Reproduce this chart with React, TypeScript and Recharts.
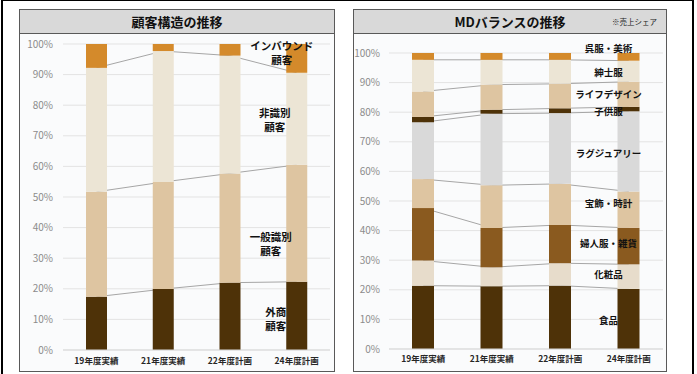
import React from 'react';
import { ComposedChart, Bar, Line, XAxis, YAxis, CartesianGrid, LabelList } from 'recharts';

// 年度カテゴリ
const years = ['19年度実績', '21年度実績', '22年度計画', '24年度計画'];

// 顧客構造の推移 (%)
const customerNames = ['外商顧客', '一般識別顧客', '非識別顧客', 'インバウンド顧客'];
const gaishou = [17.4, 19.9, 22.0, 22.3];
const ippanShikibetsu = [34.3, 35.0, 35.7, 38.2];
const hiShikibetsu = [40.5, 42.8, 38.5, 30.1];
const inbound = [7.8, 2.3, 3.8, 9.4];

// MDバランスの推移 (売上シェア %)
const mdNames = ['食品', '化粧品', '婦人服・雑貨', '宝飾・時計', 'ラグジュアリー', '子供服', 'ライフデザイン', '紳士服', '呉服・美術'];
const shokuhin = [21.4, 21.2, 21.4, 20.3];
const keshouhin = [8.5, 6.4, 7.6, 8.3];
const fujinfuku = [17.7, 13.3, 12.9, 12.3];
const houshoku = [9.8, 14.4, 13.9, 12.3];
const luxury = [19.2, 24.2, 23.9, 27.1];
const kodomofuku = [1.8, 1.3, 1.6, 1.5];
const lifeDesign = [8.6, 8.5, 8.3, 8.5];
const shinshifuku = [10.7, 8.4, 8.1, 7.1];
const gofuku = [2.3, 2.3, 2.3, 2.6];

const yTicks = [0, 10, 20, 30, 40, 50, 60, 70, 80, 90, 100];

const FONT = '"Noto Sans CJK JP", "Noto Sans", sans-serif';

const DARK = '#4e3208';
const BROWN = '#8a5a1f';
const TAN = '#dec5a1';
const CREAM = '#ece5d5';
const BEIGE = '#e7dccb';
const GRAY = '#d9d9d9';
const ORANGE = '#d48a2b';

// Stacked rows: s{i} = segment value, c{i} = cumulative top of segment i
function buildRows(series: number[][]) {
  return years.map((year, j) => {
    const row: Record<string, number | string> = { year };
    let acc = 0;
    series.forEach((s, i) => {
      acc += s[j];
      row[`s${i}`] = s[j];
      row[`c${i}`] = Math.round(acc * 10) / 10;
    });
    return row;
  });
}

const customerRows = buildRows([gaishou, ippanShikibetsu, hiShikibetsu, inbound]);
const mdRows = buildRows([shokuhin, keshouhin, fujinfuku, houshoku, luxury, kodomofuku, lifeDesign, shinshifuku, gofuku]);

// Series styles and label placement on the last column
const customerStyle = [
  { color: DARK, lines: ['外商', '顧客'], dx: -21, dy: 3 },
  { color: TAN, lines: ['一般識別', '顧客'], dx: -26, dy: 21 },
  { color: CREAM, lines: ['非識別', '顧客'], dx: -22, dy: 1 },
  { color: ORANGE, lines: ['インバウンド', '顧客'], dx: -15, dy: -5 },
];

const mdStyle = [
  { color: DARK, dx: -20, dy: 2 },
  { color: BEIGE, dx: -20, dy: -2 },
  { color: BROWN, dx: -20, dy: -2.5 },
  { color: TAN, dx: -20, dy: -6 },
  { color: GRAY, dx: -20, dy: 2 },
  { color: DARK, dx: -20, dy: 2 },
  { color: TAN, dx: -20, dy: 0 },
  { color: CREAM, dx: -20, dy: 1 },
  { color: ORANGE, dx: -20, dy: -8 },
];

function makeLabel(lines: string[], dx: number, dy: number, size: number, lineHeight: number) {
  const last = years.length - 1;
  return (props: any) => {
    const { x, y, width, height, index } = props;
    if (index !== last) return null;
    const cx = Number(x) + Number(width) / 2 + dx;
    const cy = Number(y) + Number(height) / 2 + dy;
    const top = cy - ((lines.length - 1) * lineHeight) / 2;
    return (
      <g>
        {lines.map((l, i) => (
          <text
            key={i}
            x={cx}
            y={top + i * lineHeight + size * 0.36}
            textAnchor="middle"
            fontFamily={FONT}
            fontSize={size}
            fontWeight={700}
            fill="#111"
          >
            {l}
          </text>
        ))}
      </g>
    );
  };
}

function Panel(props: { left: number; width: number; title: string; note?: string; children: React.ReactNode }) {
  const { left, width, title, note, children } = props;
  return (
    <div
      style={{
        position: 'absolute',
        left,
        top: 9,
        width,
        height: 363,
        boxSizing: 'border-box',
        border: '1px solid #595959',
        background: '#fafbfc',
      }}
    >
      <div
        style={{
          position: 'relative',
          height: 24,
          boxSizing: 'border-box',
          borderBottom: '1px solid #595959',
          background: '#d9d9d9',
          display: 'flex',
          alignItems: 'center',
          justifyContent: 'center',
          fontFamily: FONT,
          fontWeight: 700,
          fontSize: 13,
          color: '#111',
        }}
      >
        {title}
        {note && (
          <span style={{ position: 'absolute', right: 9, fontSize: 7.5, fontWeight: 400, color: '#222' }}>{note}</span>
        )}
      </div>
      <div style={{ position: 'absolute', left: 0, top: 24 }}>{children}</div>
    </div>
  );
}

const pct = (v: number) => `${v}%`;

function StackChart(props: {
  rows: Record<string, number | string>[];
  names: string[];
  styles: { color: string; lines?: string[]; dx: number; dy: number }[];
  width: number;
  yAxisWidth: number;
  top: number;
  right: number;
  xAxisHeight: number;
  barSize: number;
  labelSize: number;
  tickMarginX: number;
  tickMarginY: number;
}) {
  const { rows, names, styles, width, yAxisWidth, top, right, xAxisHeight, barSize, labelSize, tickMarginX, tickMarginY } = props;
  return (
    <ComposedChart width={width} height={337} data={rows} margin={{ top, right, left: 0, bottom: 0 }}>
      <CartesianGrid vertical={false} stroke="#e3e3e3" />
      <XAxis
        dataKey="year"
        height={xAxisHeight}
        tickLine={false}
        tickSize={0}
        tickMargin={tickMarginX}
        axisLine={{ stroke: '#d9d9d9' }}
        tick={{ fontSize: 8.5, fontWeight: 700, fill: '#262626', fontFamily: FONT }}
        interval={0}
      />
      <YAxis
        width={yAxisWidth}
        domain={[0, 100]}
        ticks={yTicks}
        tickFormatter={pct}
        tickLine={false}
        tickSize={0}
        tickMargin={tickMarginY}
        axisLine={false}
        tick={{ fontSize: 10, fill: '#8c8c8c', fontFamily: FONT }}
      />
      {names.slice(0, -1).map((n, i) => (
        <Line
          key={`line-${n}`}
          dataKey={`c${i}`}
          type="linear"
          stroke="#a6a6a6"
          strokeWidth={1}
          dot={false}
          activeDot={false}
          legendType="none"
          isAnimationActive={false}
          zIndex={250}
        />
      ))}
      {names.map((n, i) => {
        const st = styles[i];
        return (
          <Bar key={n} name={n} dataKey={`s${i}`} stackId="a" fill={st.color} barSize={barSize} isAnimationActive={false}>
            <LabelList
              dataKey={`s${i}`}
              content={makeLabel(st.lines ?? [n], st.dx, st.dy, labelSize, 14)}
            />
          </Bar>
        );
      })}
    </ComposedChart>
  );
}

export default function App() {
  return (
    <div style={{ position: 'absolute', left: 0, top: 0, width: 697, height: 374, background: '#ffffff', overflow: 'hidden' }}>
      <div
        style={{
          position: 'absolute',
          left: 1,
          top: 0,
          width: 693,
          height: 374,
          boxSizing: 'border-box',
          borderLeft: '2px solid #000',
          borderTop: '1px solid #000',
          borderRight: '2px solid #000',
        }}
      />
      <Panel left={19} width={316} title="顧客構造の推移">
        <StackChart
          rows={customerRows}
          names={customerNames}
          styles={customerStyle}
          width={314}
          yAxisWidth={43}
          top={10}
          right={4}
          xAxisHeight={21}
          barSize={21}
          labelSize={10.5}
          tickMarginX={8}
          tickMarginY={10}
        />
      </Panel>
      <Panel left={353} width={314} title="MDバランスの推移" note="※売上シェア">
        <StackChart
          rows={mdRows}
          names={mdNames}
          styles={mdStyle}
          width={312}
          yAxisWidth={35}
          top={19}
          right={3}
          xAxisHeight={22}
          barSize={22}
          labelSize={9.5}
          tickMarginX={7}
          tickMarginY={9}
        />
      </Panel>
    </div>
  );
}
